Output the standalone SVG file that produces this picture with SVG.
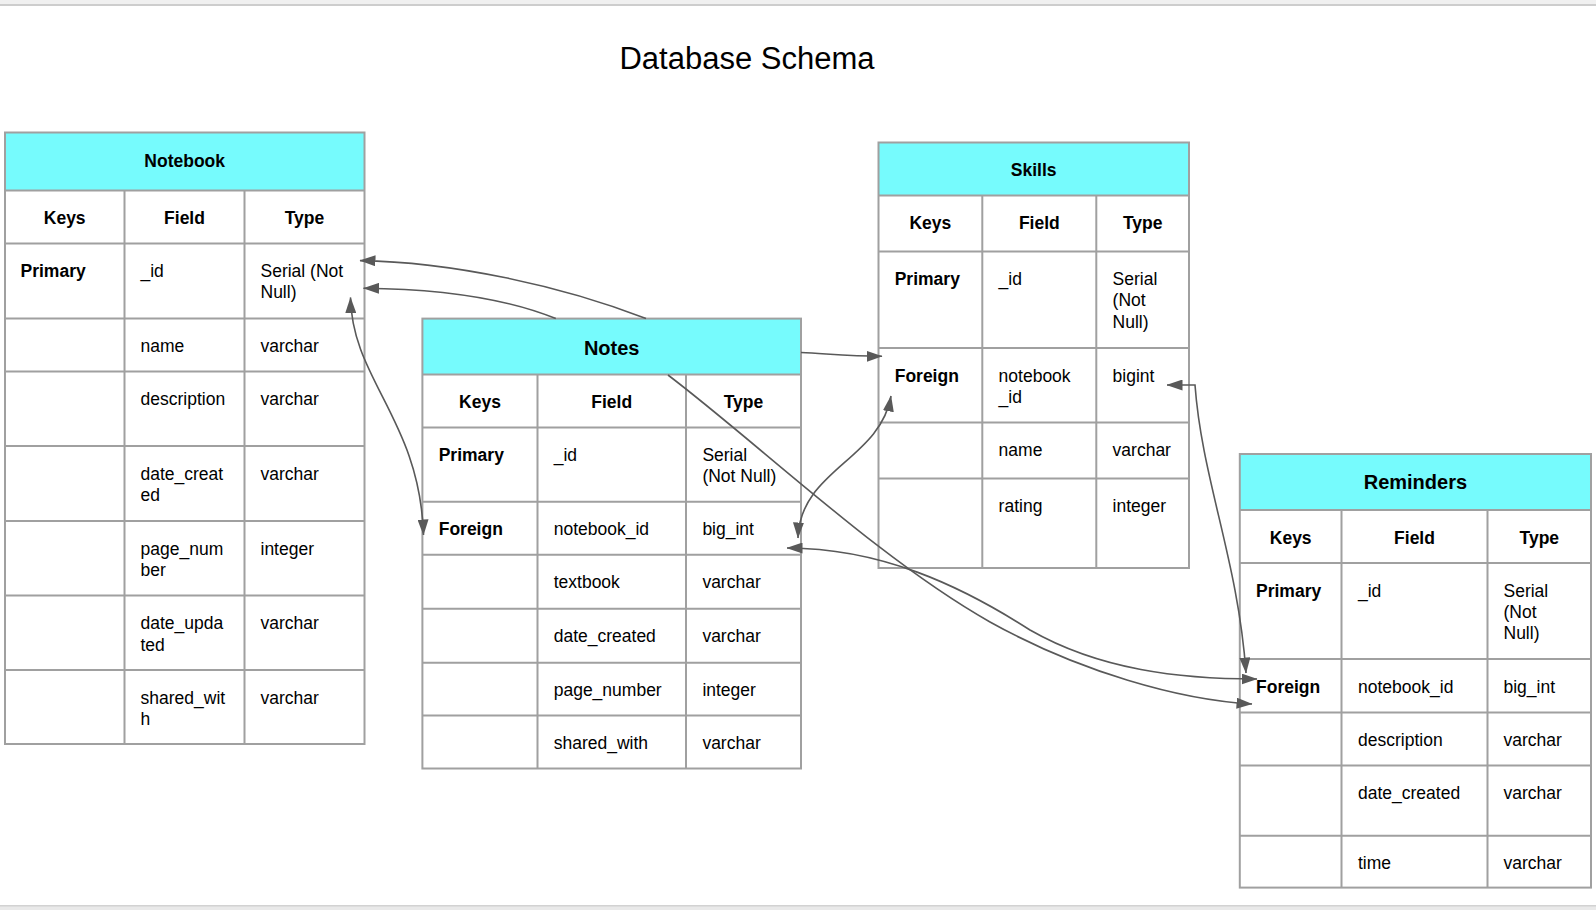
<svg xmlns="http://www.w3.org/2000/svg" width="1596" height="910" viewBox="0 0 1596 910">
<defs>
<style>
.hdr{fill:#76fbfd;}
.grid{stroke:#a0a0a0;stroke-width:2;fill:none;}
.t{font-family:"Liberation Sans",Arial,sans-serif;font-size:17.5px;fill:#000;}
.b{font-weight:bold;}
.c{text-anchor:middle;}
.h2{font-size:20px;}
.conn{stroke:#595959;stroke-width:1.6;fill:none;}
</style>
<marker id="arr" viewBox="0 0 16 11" refX="15.5" refY="5.5" markerWidth="16" markerHeight="11" markerUnits="userSpaceOnUse" orient="auto-start-reverse">
<path d="M0,0 L16,5.5 L0,11 z" fill="#595959"/>
</marker>
</defs>
<rect x="0" y="0" width="1596" height="910" fill="#ffffff"/>
<rect x="0" y="0" width="1596" height="4.5" fill="#f0f0f0"/>
<rect x="0" y="4" width="1596" height="2" fill="#cdcdcd"/>
<rect x="0" y="905" width="1596" height="5" fill="#e9e9e9"/>
<rect x="0" y="905" width="1596" height="1.5" fill="#d2d2d2"/>

<text x="747" y="69" class="t c" style="font-size:31px">Database Schema</text>

<g id="notebook">
<rect x="5" y="132.5" width="359.5" height="58" class="hdr"/>
<rect x="5" y="132.5" width="359.5" height="611.5" class="grid"/>
<path class="grid" d="M5,190.5H364.5M5,243.5H364.5M5,318.5H364.5M5,371.5H364.5M5,446H364.5M5,521H364.5M5,595.5H364.5M5,670H364.5M124.5,190.5V744M244.5,190.5V744"/>
<text x="184.7" y="166.5" class="t b c">Notebook</text>
<text x="64.7" y="224" class="t b c">Keys</text>
<text x="184.5" y="224" class="t b c">Field</text>
<text x="304.5" y="224" class="t b c">Type</text>
<text x="20.5" y="277" class="t b">Primary</text>
<text x="140.5" y="277" class="t">_id</text>
<text x="260.5" y="277" class="t">Serial (Not</text>
<text x="260.5" y="298.4" class="t">Null)</text>
<text x="140.5" y="352" class="t">name</text>
<text x="260.5" y="352" class="t">varchar</text>
<text x="140.5" y="405" class="t">description</text>
<text x="260.5" y="405" class="t">varchar</text>
<text x="140.5" y="479.5" class="t">date_creat</text>
<text x="140.5" y="501" class="t">ed</text>
<text x="260.5" y="479.5" class="t">varchar</text>
<text x="140.5" y="554.5" class="t">page_num</text>
<text x="140.5" y="576" class="t">ber</text>
<text x="260.5" y="554.5" class="t">integer</text>
<text x="140.5" y="629" class="t">date_upda</text>
<text x="140.5" y="650.5" class="t">ted</text>
<text x="260.5" y="629" class="t">varchar</text>
<text x="140.5" y="703.5" class="t">shared_wit</text>
<text x="140.5" y="725" class="t">h</text>
<text x="260.5" y="703.5" class="t">varchar</text>
</g>

<g id="notes">
<rect x="422.4" y="318.6" width="378.6" height="56" class="hdr"/>
<rect x="422.4" y="318.6" width="378.6" height="449.9" class="grid"/>
<path class="grid" d="M422.4,374.6H801M422.4,427.5H801M422.4,501.8H801M422.4,554.8H801M422.4,608.7H801M422.4,662.7H801M422.4,715.6H801M537.5,374.6V768.5M686,374.6V768.5"/>
<text x="611.7" y="354.5" class="t b c h2">Notes</text>
<text x="480" y="408" class="t b c">Keys</text>
<text x="611.7" y="408" class="t b c">Field</text>
<text x="743.5" y="408" class="t b c">Type</text>
<text x="438.7" y="461" class="t b">Primary</text>
<text x="553.7" y="461" class="t">_id</text>
<text x="702.4" y="461" class="t">Serial</text>
<text x="702.4" y="482.4" class="t">(Not Null)</text>
<text x="438.7" y="535.3" class="t b">Foreign</text>
<text x="553.7" y="535.3" class="t">notebook_id</text>
<text x="702.4" y="535.3" class="t">big_int</text>
<text x="553.7" y="588.3" class="t">textbook</text>
<text x="702.4" y="588.3" class="t">varchar</text>
<text x="553.7" y="642.2" class="t">date_created</text>
<text x="702.4" y="642.2" class="t">varchar</text>
<text x="553.7" y="696.2" class="t">page_number</text>
<text x="702.4" y="696.2" class="t">integer</text>
<text x="553.7" y="749.1" class="t">shared_with</text>
<text x="702.4" y="749.1" class="t">varchar</text>
</g>

<g id="skills">
<rect x="878.5" y="142.5" width="310.5" height="52.9" class="hdr"/>
<rect x="878.5" y="142.5" width="310.5" height="425.5" class="grid"/>
<path class="grid" d="M878.5,195.4H1189M878.5,251.4H1189M878.5,348H1189M878.5,422.4H1189M878.5,478.4H1189M982.3,195.4V568M1096.3,195.4V568"/>
<text x="1033.7" y="176" class="t b c">Skills</text>
<text x="930.4" y="229" class="t b c">Keys</text>
<text x="1039.3" y="229" class="t b c">Field</text>
<text x="1142.7" y="229" class="t b c">Type</text>
<text x="894.7" y="285" class="t b">Primary</text>
<text x="998.6" y="285" class="t">_id</text>
<text x="1112.6" y="285" class="t">Serial</text>
<text x="1112.6" y="306.4" class="t">(Not</text>
<text x="1112.6" y="327.8" class="t">Null)</text>
<text x="894.7" y="381.5" class="t b">Foreign</text>
<text x="998.6" y="381.5" class="t">notebook</text>
<text x="998.6" y="402.9" class="t">_id</text>
<text x="1112.6" y="381.5" class="t">bigint</text>
<text x="998.6" y="456" class="t">name</text>
<text x="1112.6" y="456" class="t">varchar</text>
<text x="998.6" y="512" class="t">rating</text>
<text x="1112.6" y="512" class="t">integer</text>
</g>

<g id="reminders">
<rect x="1239.8" y="454" width="351.2" height="56" class="hdr"/>
<rect x="1239.8" y="454" width="351.2" height="433.6" class="grid"/>
<path class="grid" d="M1239.8,510H1591M1239.8,563H1591M1239.8,659H1591M1239.8,712.5H1591M1239.8,765.5H1591M1239.8,835.7H1591M1341.5,510V887.6M1487.5,510V887.6"/>
<text x="1415.4" y="489" class="t b c h2">Reminders</text>
<text x="1290.7" y="543.5" class="t b c">Keys</text>
<text x="1414.5" y="543.5" class="t b c">Field</text>
<text x="1539.3" y="543.5" class="t b c">Type</text>
<text x="1256" y="596.5" class="t b">Primary</text>
<text x="1358" y="596.5" class="t">_id</text>
<text x="1503.5" y="596.5" class="t">Serial</text>
<text x="1503.5" y="618" class="t">(Not</text>
<text x="1503.5" y="639.4" class="t">Null)</text>
<text x="1256" y="692.5" class="t b">Foreign</text>
<text x="1358" y="692.5" class="t">notebook_id</text>
<text x="1503.5" y="692.5" class="t">big_int</text>
<text x="1358" y="746" class="t">description</text>
<text x="1503.5" y="746" class="t">varchar</text>
<text x="1358" y="799" class="t">date_created</text>
<text x="1503.5" y="799" class="t">varchar</text>
<text x="1358" y="869.2" class="t">time</text>
<text x="1503.5" y="869.2" class="t">varchar</text>
</g>

<g id="connectors">
<path class="conn" marker-end="url(#arr)" d="M646,318.6 C560,285 450,262 360,260.6"/>
<path class="conn" marker-end="url(#arr)" d="M555.8,318.6 C510,300 450,289 363.5,288.2"/>
<path class="conn" marker-start="url(#arr)" marker-end="url(#arr)" d="M350.5,297.5 C352,380 420,420 423.5,535"/>
<path class="conn" marker-end="url(#arr)" d="M801,352.5 C830,354 850,356.3 882,356.3"/>
<path class="conn" marker-start="url(#arr)" marker-end="url(#arr)" d="M891,396 C880,460 800,470 798,538"/>
<path class="conn" marker-start="url(#arr)" marker-end="url(#arr)" d="M787,548 C880,548 960,585 1030,630 C1100,670 1180,679 1257,679"/>
<path class="conn" marker-end="url(#arr)" d="M668,375 C760,445 880,560 990,622 C1080,672 1180,700 1252,704"/>
<path class="conn" marker-start="url(#arr)" marker-end="url(#arr)" d="M1167,385 H1195 C1202,480 1238,560 1246,673"/>
</g>
</svg>
